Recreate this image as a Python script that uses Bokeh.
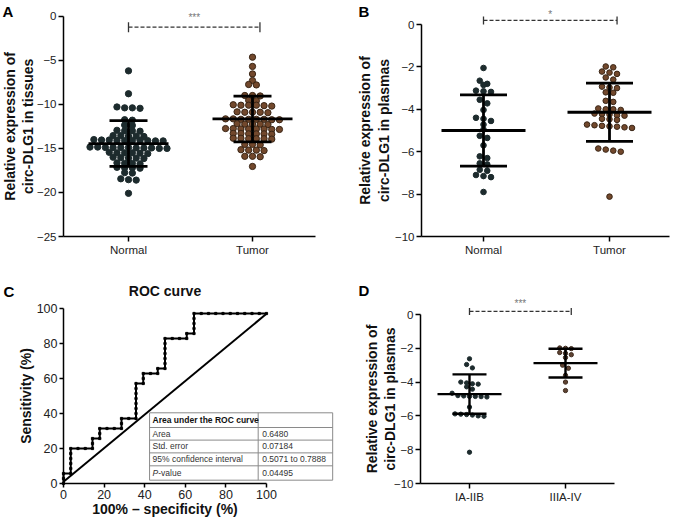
import math
from bokeh.plotting import figure
from bokeh.models import FixedTicker, Label, Range1d
from bokeh.layouts import row, column
from bokeh.embed import file_html
from bokeh.resources import INLINE

FONT = "Liberation Sans"

# ------------------------------------------------------------------ data
a_categories = ["Normal", "Tumor"]
a_normal = [-6.2, -8.8,
            -10.3, -10.4, -10.45, -10.4,
            -11.8, -11.75,
            -12.4, -12.35,
            -13.0, -12.95, -13.05, -13.0,
            -13.6, -13.55, -13.65, -13.6, -13.55,
            -14.1, -14.05, -14.15, -14.1, -14.1, -14.0, -14.15, -14.1, -14.05, -14.12,
            -14.9, -14.95, -14.9, -15.0, -14.95, -14.85, -14.9, -15.0, -14.95, -14.9, -14.85,
            -15.5, -15.55, -15.5, -15.45, -15.6, -15.5,
            -16.1, -16.05, -16.15, -16.1, -16.0,
            -16.7, -16.65, -16.75, -16.7,
            -17.2, -17.25, -17.15, -17.2,
            -17.8, -17.75,
            -18.45, -18.6, -18.55,
            -20.1]
a_tumor = [-4.65, -5.7, -6.55, -7.3,
           -7.8, -7.75,
           -9.0, -9.05, -9.0,
           -9.55, -9.6,
           -10.1, -10.15, -10.1, -10.2, -10.1, -10.05,
           -10.9, -10.85, -10.95, -10.9, -10.9,
           -11.7, -11.65, -11.75, -11.7, -11.7, -11.65, -11.75, -11.7,
           -12.25, -12.3, -12.25, -12.2, -12.25,
           -12.8, -12.75, -12.8, -12.85, -12.8, -12.75, -12.8, -12.85,
           -13.35, -13.3, -13.4, -13.35, -13.35, -13.3,
           -13.9, -13.85, -13.95, -13.9, -13.9, -13.85,
           -14.55, -14.6, -14.55,
           -15.2, -15.25, -15.2, -15.15,
           -15.9, -15.95, -15.9,
           -17.05]
a_mean = [-14.45, -11.66]
a_sd = [2.6, 2.6]
a_sig = "***"
a_ylabel = ["Relative expression of", "circ-DLG1 in tissues"]

b_categories = ["Normal", "Tumor"]
b_normal = [-2.05,
            -2.65, -2.8, -2.85,
            -3.12, -3.15, -3.18,
            -3.55, -3.72,
            -4.03,
            -4.4, -4.45, -4.55,
            -4.72,
            -4.95,
            -5.25, -5.35,
            -5.7,
            -6.22, -6.3,
            -6.55, -6.6,
            -6.85, -6.9,
            -7.1, -7.15, -7.2,
            -7.9]
b_tumor = [-1.98, -2.02,
           -2.22, -2.27, -2.33,
           -2.5, -2.6,
           -2.93, -2.97, -3.0,
           -3.2, -3.22,
           -3.6, -3.65,
           -3.96, -4.0, -4.0, -4.03,
           -4.2, -4.22, -4.25, -4.28, -4.3,
           -4.45, -4.47, -4.5,
           -4.72, -4.75, -4.78, -4.8, -4.82, -4.85, -4.88,
           -5.85, -5.9, -5.95, -6.0,
           -8.12]
b_mean = [-5.0, -4.14]
b_sd = [1.68, 1.375]
b_sig = "*"
b_ylabel = ["Relative expression of", "circ-DLG1 in plasmas"]

d_categories = ["IA-IIB", "IIIA-IV"]
d_early = [-2.62,
           -2.96, -3.16,
           -4.0, -4.05, -4.1, -4.12,
           -4.28, -4.42,
           -4.66, -4.8, -4.82, -4.85, -4.85, -4.86, -4.88,
           -5.48,
           -5.88, -5.9, -5.92, -5.95, -6.0, -6.02,
           -8.15]
d_late = [-1.98, -2.0, -2.02,
          -2.25, -2.3, -2.38,
          -2.55,
          -3.0, -3.18,
          -3.6,
          -4.0,
          -4.5]
d_mean = [-4.71, -2.88]
d_sd = [1.165, 0.85]
d_sig = "***"
d_ylabel = ["Relative expression of", "circ-DLG1 in plasmas"]

# ROC curve vertices as counts (false positives out of 28, true positives out of 35)
roc_fp_counts = [0, 0, 1, 1, 4, 4, 5, 5, 8, 8, 10, 10, 11, 11, 13, 13, 14, 14, 17, 17, 18, 18, 28]
roc_tp_counts = [0, 2, 2, 7, 7, 9, 9, 11, 11, 13, 13, 20, 20, 22, 22, 23, 23, 29, 29, 30, 30, 34, 34]
roc_n_neg = 28
roc_n_pos = 35
roc_diag_x = [0, 100]
roc_diag_y = [1.0, 97]
roc_table_labels = ["Area under the ROC curve", "Area", "Std. error", "95% confidence interval", "P-value"]
roc_table_values = ["", "0.6480", "0.07184", "0.5071 to 0.7888", "0.04495"]

# ------------------------------------------------------------------ helpers
NORMAL_FILL = "#1d2b2d"
TUMOR_FILL = "#72482c"
TUMOR_LINE = "#3a2616"


class Panel:
    """Figure whose frame fills the whole canvas; maps page pixels to data."""
    def __init__(self, left, top, width, height, xref_px, xref_val, ppx, yref_px, yref_val, ppy):
        self.left, self.top, self.width, self.height = left, top, width, height
        self.xref_px, self.xref_val, self.ppx = xref_px, xref_val, ppx
        self.yref_px, self.yref_val, self.ppy = yref_px, yref_val, ppy

    def dx(self, px):
        return self.xref_val + (px - self.xref_px) / self.ppx

    def dy(self, py):
        return self.yref_val - (py - self.yref_px) / self.ppy

    def xr(self):
        return Range1d(self.dx(self.left), self.dx(self.left + self.width))

    def yr(self):
        return Range1d(self.dy(self.top + self.height), self.dy(self.top))


def make_fig(P, yaxis_px, xaxis_val, xspan_px, ybounds, tick_size="11.5px"):
    p = figure(width=P.width, height=P.height, x_range=P.xr(), y_range=P.yr(),
               output_backend="svg", toolbar_location=None,
               min_border=0, min_border_left=0, min_border_right=0,
               min_border_top=0, min_border_bottom=0)
    p.outline_line_color = None
    p.xgrid.visible = False
    p.ygrid.visible = False
    p.background_fill_color = "white"
    p.border_fill_color = "white"
    xa, ya = p.xaxis[0], p.yaxis[0]
    ya.fixed_location = P.dx(yaxis_px)
    xa.fixed_location = xaxis_val
    xa.bounds = (P.dx(xspan_px[0]), P.dx(xspan_px[1]))
    ya.bounds = ybounds
    for ax in (xa, ya):
        ax.axis_line_width = 1.5
        ax.axis_line_color = "black"
        ax.major_tick_line_width = 1.5
        ax.major_tick_line_color = "black"
        ax.major_tick_out = 5
        ax.major_tick_in = 0
        ax.minor_tick_line_color = None
        ax.major_label_text_font = FONT
        ax.major_label_text_font_size = tick_size
        ax.major_label_text_color = "#222222"
        ax.major_label_standoff = 2
    return p


def minus(v):
    return ("%g" % v).replace("-", "\u2212")


def txt(p, x, y, text, size="14px", style="bold", align="center", baseline="middle",
        angle=0.0, color="#111111", x_offset=0):
    p.add_layout(Label(x=x, y=y, text=text, angle=angle, text_font=FONT,
                       text_font_size=size, text_font_style=style, text_align=align,
                       text_baseline=baseline, text_color=color, x_offset=x_offset))


def swarm_offsets(vals, thr, step):
    order = sorted(range(len(vals)), key=lambda i: -vals[i])
    rows, cur = [], []
    for i in order:
        if cur and abs(vals[cur[0]] - vals[i]) > thr:
            rows.append(cur)
            cur = []
        cur.append(i)
    if cur:
        rows.append(cur)
    offs = [0.0] * len(vals)
    for r in rows:
        k = len(r)
        for j, i in enumerate(r):
            offs[i] = (j - (k - 1) / 2.0) * step
    return offs


def dot_panel(P, cats, groups, means, sds, sig, ylabel, cfg):
    yt = cfg["yticks"]
    p = make_fig(P, cfg["yaxis_px"], yt[0], cfg["xspan_px"], (yt[0], yt[-1]))
    p.xaxis[0].ticker = FixedTicker(ticks=[0, 1])
    p.xaxis[0].major_label_overrides = {0: cats[0], 1: cats[1]}
    p.yaxis[0].ticker = FixedTicker(ticks=yt)
    p.yaxis[0].major_label_overrides = {t: minus(t) for t in yt}

    styles = [dict(fill_color=cfg["c0"], line_color=cfg["c0"]),
              dict(fill_color=cfg["c1"], line_color=cfg["c1l"])]
    for gi, vals in enumerate(groups):
        offs = swarm_offsets(vals, cfg["thr"], cfg["step"] / P.ppx)
        xs = [gi + o for o in offs]
        p.scatter(xs, vals, size=cfg["dot"], line_width=1, **styles[gi])

    hm = cfg["half_mean"] / P.ppx
    hs = cfg["half_sd"] / P.ppx
    for gi in range(2):
        m, s = means[gi], sds[gi]
        p.segment(x0=[gi - hm, gi - hs, gi - hs, gi], y0=[m, m + s, m - s, m - s],
                  x1=[gi + hm, gi + hs, gi + hs, gi], y1=[m, m + s, m - s, m + s],
                  line_width=cfg["lw"], line_color="black")

    # significance bar
    sy = cfg["sig_y"]
    c = cfg["cap"] / P.ppy
    xr = 1.06
    p.segment(x0=[0], y0=[sy], x1=[xr], y1=[sy], line_dash="4 2", line_width=1.3, line_color="#333333")
    p.segment(x0=[0, xr], y0=[sy - c, sy - c], x1=[0, xr], y1=[sy + c, sy + c],
              line_width=1.3, line_color="#333333")
    txt(p, xr / 2, P.dy(cfg["star_py"]), sig, size="10px", style="normal", color="#777777")

    # y-axis title (two lines) and panel letter
    ymid = (yt[0] + yt[-1]) / 2.0
    for line, px in zip(ylabel, cfg["ylab_px"]):
        txt(p, P.dx(px), ymid, line, size="14px", angle=math.pi / 2)
    lx, ly = cfg["letter_px"]
    txt(p, P.dx(lx), P.dy(ly), cfg["letter"], size="15px", align="left", baseline="top",
        color="#000000")
    return p


# ------------------------------------------------------------------ panels
PA = Panel(0, 0, 336, 270, xref_px=128, xref_val=0, ppx=124.0,
           yref_px=236, yref_val=-25, ppy=(236 - 15.7) / 25.0)
PB = Panel(336, 0, 337, 270, xref_px=483, xref_val=0, ppx=126.0,
           yref_px=236, yref_val=-10, ppy=21.2)
PC = Panel(0, 270, 336, 252, xref_px=63, xref_val=0, ppx=2.03,
           yref_px=483, yref_val=0, ppy=1.75)
PD = Panel(336, 270, 337, 252, xref_px=469, xref_val=0, ppx=96.0,
           yref_px=483, yref_val=-10, ppy=16.9)

pa = dot_panel(PA, a_categories, [a_normal, a_tumor], a_mean, a_sd, a_sig, a_ylabel, dict(
    yticks=[-25, -20, -15, -10, -5, 0], yaxis_px=63, xspan_px=(63, 315),
    thr=0.25, step=7.7, dot=6.3, half_mean=40, half_sd=19,
    lw=2.8, sig_y=-1.25, cap=5, star_py=17, c0=NORMAL_FILL, c1=TUMOR_FILL, c1l=TUMOR_LINE,
    ylab_px=(9, 27), letter="A", letter_px=(2, 2)))

pb = dot_panel(PB, b_categories, [b_normal, b_tumor], b_mean, b_sd, b_sig, b_ylabel, dict(
    yticks=[-10, -8, -6, -4, -2, 0], yaxis_px=421, xspan_px=(421, 669),
    thr=0.2, step=7.5, dot=5.6, half_mean=42, half_sd=23.5,
    lw=2.8, sig_y=0.19, cap=4, star_py=14, c0=NORMAL_FILL, c1=TUMOR_FILL, c1l=TUMOR_LINE,
    ylab_px=(364, 383), letter="B", letter_px=(358, 2)))

pd = dot_panel(PD, d_categories, [d_early, d_late], d_mean, d_sd, d_sig, d_ylabel, dict(
    yticks=[-10, -8, -6, -4, -2, 0], yaxis_px=420, xspan_px=(420, 614),
    thr=0.25, step=5.8, dot=4.3, half_mean=32, half_sd=17,
    lw=2.4, sig_y=0.18, cap=3.5, star_py=303, c0=NORMAL_FILL, c1="#5f4332", c1l="#3d2a1e",
    ylab_px=(371, 389), letter="D", letter_px=(358, 281)))

# ---------------- ROC panel
pc = make_fig(PC, 63, 0, (63, 266), (0, 100), tick_size="12.5px")
for ax in (pc.xaxis[0], pc.yaxis[0]):
    ax.ticker = FixedTicker(ticks=[0, 20, 40, 60, 80, 100])
    ax.major_tick_out = 4
    ax.major_label_standoff = 2
pc.xaxis[0].bounds = (0, 100)

fpr = [100.0 * v / roc_n_neg for v in roc_fp_counts]
tpr = [100.0 * v / roc_n_pos for v in roc_tp_counts]
mx, my = [], []
for k in range(len(roc_fp_counts) - 1):
    a0, b0 = roc_fp_counts[k], roc_tp_counts[k]
    a1, b1 = roc_fp_counts[k + 1], roc_tp_counts[k + 1]
    n = max(abs(a1 - a0), abs(b1 - b0))
    for j in range(n):
        mx.append(100.0 * (a0 + (a1 - a0) * j / n) / roc_n_neg)
        my.append(100.0 * (b0 + (b1 - b0) * j / n) / roc_n_pos)
mx.append(fpr[-1])
my.append(tpr[-1])

pc.line(roc_diag_x, roc_diag_y, line_width=2, line_color="black")
pc.line(fpr, tpr, line_width=2, line_color="black")
pc.scatter(mx, my, marker="square", size=2.2, fill_color="black", line_color="black")

# table
t_left, t_mid, t_right = 42.4, 95.9, 132.6
t_rows = [40.4, 32.0, 24.8, 17.5, 10.1, 1.9]
pc.segment(x0=[t_left] * len(t_rows), y0=t_rows, x1=[t_right] * len(t_rows), y1=t_rows,
           line_color="#8a8a8a", line_width=1)
pc.segment(x0=[t_left, t_mid, t_right], y0=[t_rows[-1]] * 3, x1=[t_left, t_mid, t_right],
           y1=[t_rows[0]] * 3, line_color="#8a8a8a", line_width=1)
for i, (lab, val) in enumerate(zip(roc_table_labels, roc_table_values)):
    yc = (t_rows[i] + t_rows[i + 1]) / 2.0
    if i == 0:
        txt(pc, t_left, yc, lab, size="8.5px", style="bold", align="left", color="#111111", x_offset=3)
    elif lab.startswith("P-"):
        txt(pc, t_left, yc, "P", size="8.5px", style="italic", align="left", color="#333333", x_offset=3)
        txt(pc, t_left, yc, lab[1:], size="8.5px", style="normal", align="left", color="#333333",
            x_offset=8.7)
    else:
        txt(pc, t_left, yc, lab, size="8.5px", style="normal", align="left", color="#333333", x_offset=3)
    if val:
        txt(pc, t_mid, yc, val, size="8.5px", style="normal", align="left", color="#333333", x_offset=4)

txt(pc, 50, PC.dy(290), "ROC curve", size="14px")
txt(pc, 50, PC.dy(508), "100% \u2013 specificity (%)", size="14px")
txt(pc, PC.dx(25), 50, "Sensitivity (%)", size="14px", angle=math.pi / 2)
txt(pc, PC.dx(3), PC.dy(282), "C", size="15px", align="left", baseline="top", color="#000000")

layout = column(row(pa, pb), row(pc, pd))
open("out.html", "w").write(file_html(layout, INLINE))
